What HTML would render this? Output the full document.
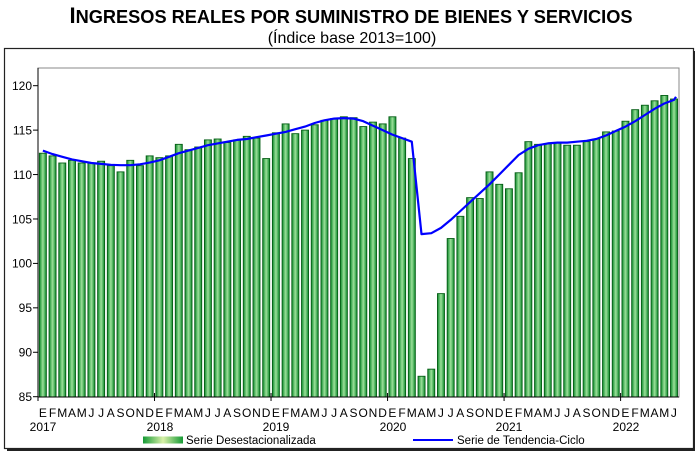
<!DOCTYPE html>
<html><head><meta charset="utf-8"><style>
html,body{margin:0;padding:0;background:#fff;}
svg{display:block;font-family:"Liberation Sans",Arial,sans-serif;}
</style></head><body>
<svg id="s" width="700" height="454" viewBox="0 0 700 454" xmlns="http://www.w3.org/2000/svg">
<defs>
<linearGradient id="g" x1="0" x2="1" y1="0" y2="0">
<stop offset="0" stop-color="#0c8a2a"/><stop offset="0.5" stop-color="#9ce09a"/><stop offset="1" stop-color="#0c8a2a"/>
</linearGradient>
<linearGradient id="gl" x1="0" x2="1" y1="0" y2="0">
<stop offset="0" stop-color="#159a35"/><stop offset="0.5" stop-color="#d8f0a8"/><stop offset="1" stop-color="#159a35"/>
</linearGradient>
</defs>
<rect x="0" y="0" width="700" height="454" fill="#fff"/>
<text x="351" y="23" text-anchor="middle" font-weight="bold" font-size="18.2"><tspan font-size="22">I</tspan>NGRESOS REALES POR SUMINISTRO DE BIENES Y SERVICIOS</text>
<text x="352" y="43" text-anchor="middle" font-size="16">(Índice base 2013=100)</text>
<rect x="7" y="51" width="688" height="400" fill="#222"/>
<rect x="4.5" y="48.5" width="689" height="400" fill="#fff" stroke="#222" stroke-width="1.2"/>
<rect x="38" y="68" width="641" height="329" fill="#fff" stroke="#888" stroke-width="1"/>
<g id="bars"></g>
<polyline id="trend" fill="none" stroke="#0000ff" stroke-width="2.2" stroke-linejoin="round"/>
<line x1="38" y1="68" x2="38" y2="397" stroke="#000"/>
<line x1="38" y1="397" x2="679" y2="397" stroke="#000"/>
<g id="ticks" stroke="#000"></g>
<g font-size="12" text-anchor="end">
<text x="32" y="401">85</text><text x="32" y="356.6">90</text><text x="32" y="312.2">95</text><text x="32" y="267.7">100</text><text x="32" y="223.3">105</text><text x="32" y="178.9">110</text><text x="32" y="134.4">115</text><text x="32" y="90">120</text>
</g>
<g font-size="12" text-anchor="middle">
<text y="417" x="42.9 52.6 62.3 72 81.7 91.4 101.1 110.8 120.5 130.2 139.9 149.6">EFMAMJJASOND</text>
<text y="417" x="159.4 169.1 178.8 188.5 198.2 207.9 217.6 227.3 237 246.7 256.4 266.1">EFMAMJJASOND</text>
<text y="417" x="275.9 285.6 295.3 305 314.7 324.4 334.1 343.8 353.5 363.2 372.9 382.6">EFMAMJJASOND</text>
<text y="417" x="392.4 402.1 411.8 421.5 431.2 440.9 450.6 460.3 470 479.7 489.4 499.1">EFMAMJJASOND</text>
<text y="417" x="508.9 518.6 528.3 538 547.7 557.4 567.1 576.8 586.5 596.2 605.9 615.6">EFMAMJJASOND</text>
<text y="417" x="625.4 635.1 644.8 654.5 664.2 673.9">EFMAMJ</text>
<text y="431" x="43">2017</text><text y="431" x="160">2018</text><text y="431" x="276">2019</text><text y="431" x="393">2020</text><text y="431" x="509">2021</text><text y="431" x="626">2022</text>
</g>
<rect x="143" y="436.5" width="40" height="7" fill="url(#gl)"/>
<text x="186" y="444" font-size="11.5">Serie Desestacionalizada</text>
<line x1="413" y1="440" x2="453" y2="440" stroke="#0000ff" stroke-width="2"/>
<text x="457" y="444" font-size="11.5">Serie de Tendencia-Ciclo</text>
</svg>
<script>
var d=[112.4,112.1,111.3,111.6,111.3,111.3,111.5,111.0,110.3,111.6,111.0,112.1,
111.9,112.1,113.4,112.8,113.1,113.9,114.0,113.6,113.9,114.3,114.1,111.8,
114.7,115.7,114.6,115.0,115.6,116.1,116.3,116.5,116.4,115.4,115.9,115.7,
116.5,114.1,111.8,87.3,88.1,96.6,102.8,105.3,107.4,107.3,110.3,108.9,
108.4,110.2,113.7,113.4,113.5,113.6,113.3,113.3,113.7,114.0,114.8,114.9,
116.0,117.3,117.8,118.3,118.9,118.5];
var t=[112.7,112.3,112.0,111.7,111.5,111.3,111.2,111.1,111.05,111.05,111.15,111.35,
111.6,112.0,112.4,112.7,113.0,113.3,113.5,113.7,113.9,114.0,114.2,114.4,
114.6,114.8,115.1,115.4,115.8,116.1,116.3,116.35,116.3,116.0,115.5,115.0,
114.5,114.1,113.7,103.3,103.4,104.0,104.9,105.9,106.9,107.9,108.9,110.0,
111.1,112.2,112.9,113.3,113.5,113.6,113.6,113.7,113.8,114.0,114.4,114.9,
115.4,116.0,116.7,117.4,118.0,118.4,118.75];
function Y(v){return 396.7-(v-85)*8.886;}
var ns="http://www.w3.org/2000/svg",g=document.getElementById('bars'),pts=[];
for(var i=0;i<d.length;i++){var cx=38+(i+0.5)*9.71;var r=document.createElementNS(ns,'rect');
r.setAttribute('x',(cx-3.5).toFixed(2));r.setAttribute('y',Y(d[i]).toFixed(2));r.setAttribute('width',7);
r.setAttribute('height',(397-Y(d[i])).toFixed(2));r.setAttribute('fill','url(#g)');r.setAttribute('stroke','#055e15');r.setAttribute('stroke-width','0.9');g.appendChild(r);}
for(var i=0;i<t.length;i++){var cx=38+(i+0.5)*9.71;if(i==66)cx=676;pts.push(cx.toFixed(1)+','+Y(t[i]).toFixed(1));}
document.getElementById('trend').setAttribute('points',pts.join(' '));
var tk=document.getElementById('ticks'),h='';
for(var v=85;v<=120;v+=5){var y=Y(v);h+='<line x1="33" x2="38" y1="'+y+'" y2="'+y+'"/>';}
for(var k=0;k<=5;k++){var x=38+k*12*9.71;h+='<line x1="'+x+'" x2="'+x+'" y1="393" y2="401"/>';}
tk.innerHTML=h;
</script>
</body></html>
